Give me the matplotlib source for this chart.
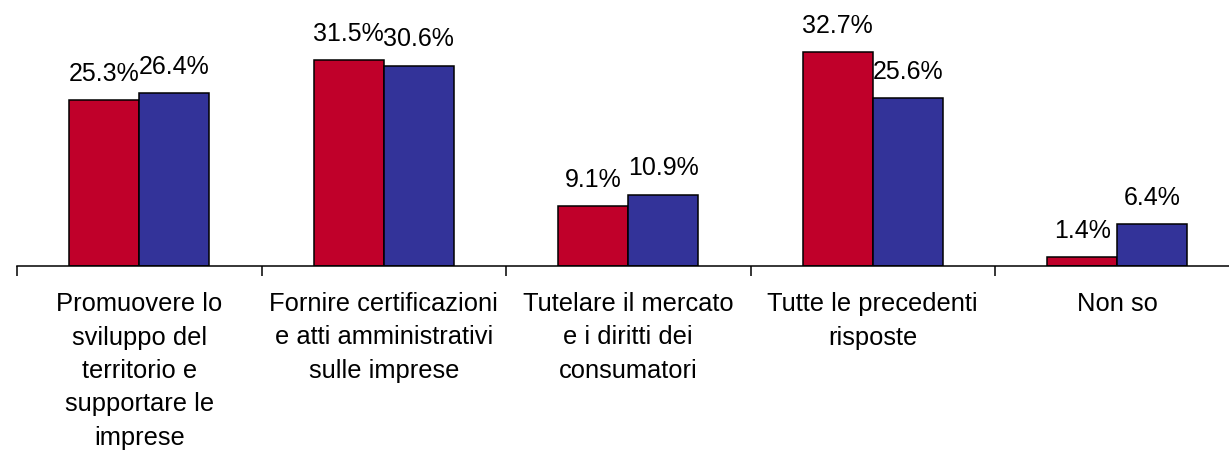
import matplotlib
matplotlib.use("Agg")
import matplotlib.pyplot as plt
import numpy as np

# categorie e valori (%)
categories = [
    "Promuovere lo\nsviluppo del\nterritorio e\nsupportare le\nimprese",
    "Fornire certificazioni\ne atti amministrativi\nsulle imprese",
    "Tutelare il mercato\ne i diritti dei\nconsumatori",
    "Tutte le precedenti\nrisposte",
    "Non so",
]
series_red = [25.3, 31.5, 9.1, 32.7, 1.4]
series_blue = [26.4, 30.6, 10.9, 25.6, 6.4]

plt.rcParams['font.family'] = ['Liberation Sans', 'DejaVu Sans']

fig = plt.figure(figsize=(12.29, 4.56), dpi=100)
ax = fig.add_axes([17 / 1229, 189 / 456, 1212 / 1229, 267 / 456])

x = np.arange(len(categories))
w = 0.286
b1 = ax.bar(x - w / 2, series_red, w, color="#C0002A", edgecolor="black", linewidth=1.1)
b2 = ax.bar(x + w / 2, series_blue, w, color="#333399", edgecolor="black", linewidth=1.1)

for bars, vals in ((b1, series_red), (b2, series_blue)):
    for r, v in zip(bars, vals):
        ax.annotate("%.1f%%" % v, (r.get_x() + r.get_width() / 2, v),
                    xytext=(0, 11), textcoords="offset points",
                    ha="center", va="bottom", fontsize=18)

ax.set_ylim(0, 40.8)
ax.set_xlim(-0.5, 4.5 - 10.5 / 244.5)

for s in ("top", "right", "left"):
    ax.spines[s].set_visible(False)
ax.spines["bottom"].set_linewidth(1.1)
ax.set_yticks([])

ax.set_xticks(x)
ax.set_xticklabels(categories, fontsize=18.4, linespacing=1.5)
ax.tick_params(axis="x", which="major", length=0, pad=18)
ax.set_xticks(np.arange(-0.5, 4.5, 1.0), minor=True)
ax.tick_params(axis="x", which="minor", length=7, width=1.1)

fig.savefig("out.png", dpi=100)
